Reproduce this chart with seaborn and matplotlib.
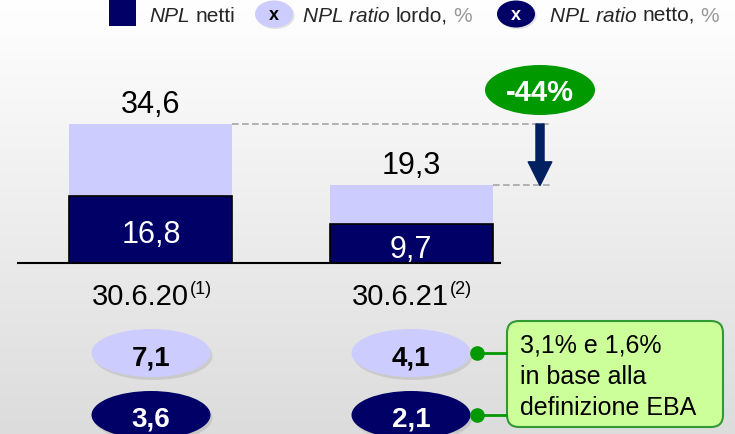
import numpy as np
import pandas as pd
import matplotlib
matplotlib.use("Agg")
import matplotlib.pyplot as plt
import seaborn as sns
from matplotlib.patches import Ellipse, Rectangle, FancyBboxPatch
from matplotlib.transforms import blended_transform_factory, offset_copy

# ---------------- data ----------------
categories = ["30.6.20", "30.6.21"]
footnotes = ["(1)", "(2)"]
npl_lordi = [34.6, 19.3]
npl_netti = [16.8, 9.7]
ratio_lordo = [7.1, 4.1]
ratio_netto = [3.6, 2.1]
change_label = "-44%"
callout_lines = ["3,1% e 1,6%", "in base alla", "definizione EBA"]


def fmt(v):
    return f"{v:.1f}".replace(".", ",")


# ---------------- style ----------------
sns.set_theme(style="white")
plt.rcParams["font.family"] = ["Liberation Sans", "DejaVu Sans"]

LIGHT = "#CCCCFF"
NAVY = "#000066"
GREEN = "#009900"
W, H = 735, 435

fig = plt.figure(figsize=(W / 100, H / 100), dpi=100)

# background gradient
bg = fig.add_axes([0, 0, 1, 1], zorder=0)
grad = np.linspace(1.0, 0.863, 256)
img = np.dstack([grad[:, None]] * 3)
bg.imshow(img, aspect="auto", extent=[0, 1, 0, 1], origin="upper")
bg.axis("off")

# main bar axes
ppu = 139 / 34.6  # pixels per unit
ax = fig.add_axes([18 / W, (H - 264) / H, 482 / W, 40 * ppu / H], zorder=1)
ax.patch.set_alpha(0)

df = pd.DataFrame({"cat": categories, "lordi": npl_lordi, "netti": npl_netti})
bw = 163 / 260
sns.barplot(data=df, x="cat", y="lordi", color=LIGHT, saturation=1, width=bw,
            linewidth=0, ax=ax)
sns.barplot(data=df, x="cat", y="netti", color=NAVY, saturation=1, width=bw,
            edgecolor="black", linewidth=1.2, ax=ax)

ax.set_xlim(-133 / 260, 1 + 89 / 260)
ax.set_ylim(0, 40)
ax.set_xticks([])
ax.set_yticks([])
ax.set_xlabel("")
ax.set_ylabel("")
for s in ["left", "right", "top"]:
    ax.spines[s].set_visible(False)
ax.spines["bottom"].set_color("black")
ax.spines["bottom"].set_linewidth(1.5)

# bar value labels
for i, (g, n) in enumerate(zip(npl_lordi, npl_netti)):
    ax.annotate(fmt(g), (i, g), xytext=(0, 9), textcoords="offset points",
                ha="center", va="baseline", fontsize=22, color="black",
                annotation_clip=False)
    ax.annotate(fmt(n), (i, n / 2), xytext=(0, -9.4), textcoords="offset points",
                ha="center", va="baseline", fontsize=22, color="white")

# dashed guide lines + arrow
arrow_x = 1 + 129 / 260
dash_end = 1 + 141 / 260
ax.hlines(npl_lordi[0], 0 + bw / 2, dash_end, colors="#A6A6A6",
          linestyles=(0, (4, 2)), lw=1.2, clip_on=False)
ax.hlines(npl_lordi[1], 1 + bw / 2, dash_end, colors="#A6A6A6",
          linestyles=(0, (4, 2)), lw=1.2, clip_on=False)
ax.annotate("", xy=(arrow_x, npl_lordi[1]), xytext=(arrow_x, npl_lordi[0]),
            arrowprops=dict(arrowstyle="simple,head_length=17,head_width=17,tail_width=5.8",
                            mutation_scale=1, color="#002060", shrinkA=0, shrinkB=0),
            annotation_clip=False)

# overlay axes in pixel coordinates
ov = fig.add_axes([0, 0, 1, 1], zorder=2)
ov.set_xlim(0, W)
ov.set_ylim(H, 0)
ov.axis("off")
tr = blended_transform_factory(ax.transData, ov.transData)
shadow_tr = offset_copy(tr, fig=fig, x=2, y=-3, units="dots")
renderer = fig.canvas.get_renderer()

# change badge
ov.add_patch(Ellipse((arrow_x, 91), 110 / 260, 50, transform=tr, fc=GREEN, ec="none"))
ov.text(arrow_x, 101, change_label, transform=tr, ha="center", va="baseline",
        fontsize=21, fontweight="bold", color="white")

# category labels with superscript footnotes
for i, (c, f) in enumerate(zip(categories, footnotes)):
    cx = ax.transData.transform((i, 0))[0]
    t1 = ov.text(0, 305, c, ha="left", va="baseline", fontsize=21, color="black")
    t2 = ov.text(0, 294, f, ha="left", va="baseline", fontsize=13, color="black")
    w1 = t1.get_window_extent(renderer).width
    w2 = t2.get_window_extent(renderer).width
    x0 = cx - (w1 + w2) / 2
    t1.set_x(x0)
    t2.set_x(x0 + w1 + 1)

# ratio ellipses
ew = 119 / 260
for i, (l, n) in enumerate(zip(ratio_lordo, ratio_netto)):
    for yc, col in [(354, LIGHT), (416, NAVY)]:
        ov.add_patch(Ellipse((i, yc), ew, 48, transform=shadow_tr, fc="#808080",
                             alpha=0.22, ec="none"))
        ov.add_patch(Ellipse((i, yc), ew, 48, transform=tr, fc=col, ec="none"))
    ov.text(i, 366, fmt(l), transform=tr, ha="center", va="baseline",
            fontsize=20, fontweight="bold", color="black")
    ov.text(i, 427, fmt(n), transform=tr, ha="center", va="baseline",
            fontsize=20, fontweight="bold", color="white")

# callout
for yc in (354, 416):
    ov.plot([477, 507], [yc, yc], color=GREEN, lw=2, solid_capstyle="butt")
    ov.plot([477], [yc], "o", ms=9.5, color=GREEN)
ov.add_patch(FancyBboxPatch((507, 322), 216, 106,
                            boxstyle="round,pad=0,rounding_size=12",
                            fc="#CCFF99", ec="#339933", lw=1.5))
for k, line in enumerate(callout_lines):
    ov.text(520, 353 + 31 * k, line, fontsize=18, va="baseline", ha="left",
            color="black")

# legend
SP = 0.278 * 15 * 100 / 72


def seq(x, y, pieces):
    for s, kw, gap in pieces:
        t = ov.text(x, y, s, va="baseline", ha="left", fontsize=15, **kw)
        x += t.get_window_extent(renderer).width + gap


ov.add_patch(Rectangle((109, 1), 27, 26, fc=NAVY, ec="none"))
seq(149, 22, [("NPL", dict(fontstyle="italic"), SP), ("netti", {}, 0)])

for xc, col, tcol, tx in [(274, LIGHT, "black", 303), (516, NAVY, "white", 550)]:
    ov.add_patch(Ellipse((xc + 1.5, 16.5), 38, 27, fc="#808080", alpha=0.22, ec="none"))
    ov.add_patch(Ellipse((xc, 15), 38, 27, fc=col, ec="none"))
    ov.text(xc, 20.5, "x", ha="center", va="baseline", fontsize=13,
            fontweight="bold", color=tcol)
    word = "lordo," if col == LIGHT else "netto,"
    seq(tx, 22, [("NPL ratio", dict(fontstyle="italic"), SP), (word, {}, SP),
                 ("%", dict(color="#999999"), 0)])

fig.savefig("out.png", dpi=100)
